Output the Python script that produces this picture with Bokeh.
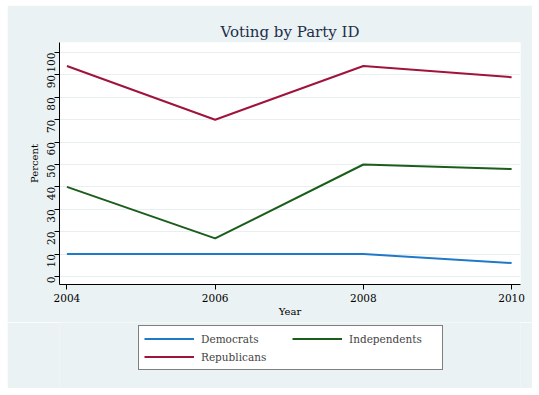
from bokeh.plotting import figure
from bokeh.models import Legend, LegendItem, Range1d, FixedTicker
from bokeh.layouts import column
from bokeh.embed import file_html
from bokeh.resources import INLINE
import math

years = [2004, 2006, 2008, 2010]
democrats = [10, 10, 10, 6]
independents = [40, 17, 50, 48]
republicans = [94, 70, 94, 89]
y_ticks = [0, 10, 20, 30, 40, 50, 60, 70, 80, 90, 100]
series_names = ["Democrats", "Independents", "Republicans"]
series_colors = ["#1F78C8", "#1B5E1B", "#A0143C"]

BG = "#EAF2F3"
FONT = "DejaVu Serif"

p = figure(width=525, height=317, output_backend="svg", toolbar_location=None,
           x_range=Range1d(2003.9, 2010.12), y_range=Range1d(-3.6, 104.5),
           min_border_left=52, min_border_right=12, min_border_top=37, min_border_bottom=38)
p.margin = 0
p.background_fill_color = "white"
p.border_fill_color = BG
p.outline_line_color = None

p.title.text = "Voting by Party ID"
p.title.align = "center"
p.title.text_font = FONT
p.title.text_font_style = "normal"
p.title.text_font_size = "15px"
p.title.text_color = "#1E2D4A"
p.title.standoff = 4

for vals, col in zip([democrats, independents, republicans], series_colors):
    p.line(years, vals, line_color=col, line_width=2)

p.xgrid.grid_line_color = None
p.ygrid.grid_line_color = "#E8EFF1"
p.ygrid.grid_line_width = 1

p.xaxis.ticker = FixedTicker(ticks=years)
p.yaxis.ticker = FixedTicker(ticks=y_ticks)
for ax in (p.xaxis[0], p.yaxis[0]):
    ax.axis_line_color = "black"
    ax.major_tick_line_color = "black"
    ax.major_tick_in = 0
    ax.major_tick_out = 5
    ax.minor_tick_line_color = None
    ax.major_label_text_font = FONT
    ax.major_label_text_font_size = "10.5px"
    ax.major_label_text_color = "black"
    ax.axis_label_text_font = FONT
    ax.axis_label_text_font_size = "10px"
    ax.axis_label_text_font_style = "normal"
    ax.axis_label_text_color = "black"
p.yaxis.major_label_orientation = math.pi / 2
p.xaxis.axis_label = "Year"
p.yaxis.axis_label = "Percent"
p.xaxis.axis_label_standoff = 1
p.yaxis.axis_label_standoff = 1
p.xaxis.major_label_standoff = 4
p.yaxis.major_label_standoff = 3

# legend strip below the chart (frames are aligned with the chart above)
p2 = figure(width=525, height=66, output_backend="svg", toolbar_location=None,
            x_range=Range1d(0, 1), y_range=Range1d(0, 1),
            min_border_left=52, min_border_right=12, min_border_top=0, min_border_bottom=0)
p2.margin = 0
p2.background_fill_color = BG
p2.border_fill_color = BG
p2.outline_line_color = None
p2.axis.visible = False
p2.grid.grid_line_color = None

items = []
for name, col in zip(series_names, series_colors):
    r = p2.line(x=[-5, -4], y=[-5, -4], line_color=col, line_width=2)
    items.append(LegendItem(label=name, renderers=[r]))

legend = Legend(items=items, location=(79, 18), ncols=2, orientation="horizontal")
legend.border_line_color = "black"
legend.border_line_width = 1
legend.background_fill_color = "white"
legend.background_fill_alpha = 1
legend.label_text_font = FONT
legend.label_text_font_size = "10.5px"
legend.glyph_width = 50
legend.glyph_height = 15
legend.label_height = 15
legend.spacing = 3
legend.padding = 5
legend.margin = 0
legend.label_standoff = 7
legend.label_width = 88
p2.add_layout(legend, "center")

layout = column(p, p2, spacing=0)
layout.margin = (5, 0, 0, 7)

open("out.html", "w").write(file_html(layout, INLINE))
